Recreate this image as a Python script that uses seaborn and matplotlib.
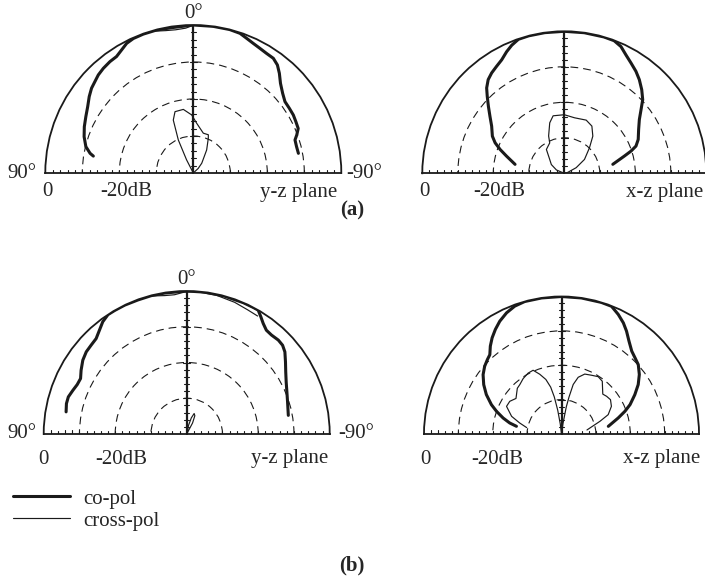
import numpy as np
import seaborn as sns
import matplotlib.pyplot as plt
from matplotlib.lines import Line2D

# angles in degrees (+ towards the 90° side), levels in dB
a_yz_co_ang = [80.4, 79.2, 76.2, 71.6, 67, 62.3, 57.9, 53.7, 50.2, 47.1, 44.1, 40.7, 36.8, 33.4, 30.2,
               27.2, 24, 19.8, 14.4, 7.8, 0, -7.7, -14.2, -18.5, -21.6, -24.8, -28.1, -31.5, -34.9,
               -37.9, -40.8, -44.2, -48.3, -52.1, -56, -59.9, -63.4, -67, -69.8, -72, -75.7, -79.4]
a_yz_co_db = [-12.6, -11.6, -10.1, -8.9, -8.0, -7.2, -6.3, -5.1, -4.2, -3.7, -3.1, -2.7, -2.4, -2.3, -1.5,
              -0.6, -0.2, -0.1, -0.1, -0.3, 0, 0, 0, -0.2, -0.85, -1.4, -1.8, -2.1, -2.2,
              -3.0, -4.4, -6.2, -7.65, -8.6, -8.7, -8.75, -9.0, -9.2, -10.2, -11.1, -11.2, -11.1]
a_yz_x_ang = [32, 27.1, 24.4, 20.7, 16.6, 8.9, 1.6, -3.8, -14.1, -21.5, -23.4, -30.1, -40.8, -47, -52]
a_yz_x_db = [-40, -36, -30.2, -24.7, -22.7, -22.6, -24.3, -26.5, -28.9, -28.9, -29.8, -32.8, -36.5, -38.2, -40]
a_yz_top_ang = [15, 11, 7, 3, 0.5]
a_yz_top_db = [-0.3, -0.8, -1.0, -0.8, -0.2]

a_xz_co_ang = [79.7, 73.4, 69.6, 66.2, 62.7, 57, 52.5, 48.6, 45, 42.3, 39.1, 35.9, 32.4, 28.9, 25.4,
               22.3, 18.9, 14.5, 7.9, 0, -8.1, -16.2, -20.6, -24.1, -27.5, -31.2, -35.1, -38.7,
               -42.8, -46.8, -50.3, -54.4, -59.5, -65.4, -69.2, -71.6, -74, -79.5]
a_xz_co_db = [-25.9, -23.0, -20.7, -18.7, -17.2, -15.6, -13.6, -11.5, -9.3, -7.5, -6.0, -5.1, -4.35, -3.5,
              -2.1, -1.0, -0.1, 0, 0, 0, 0, 0, -0.1, -0.9, -2.4, -3.7, -4.9, -6.2,
              -7.9, -9.7, -11.9, -14.0, -15.7, -17.1, -18.4, -20.2, -22.4, -26.1]
a_xz_x_ang = [72, 67, 56, 46.3, 36.9, 25.6, 22.8, 16.1, 11, 0, -10.5, -22.4, -30.3, -37.5, -44.6, -55.5,
              -64.7, -75, -80]
a_xz_x_db = [-40, -37.6, -35.6, -34.3, -31.6, -30.5, -28.6, -25.2, -23.5, -23.5, -24.1, -23.8, -24.6,
             -26.8, -29.9, -33.1, -36.3, -39, -40]

b_yz_co_ang = [79.6, 75.8, 72.6, 69, 65.7, 62.4, 58.9, 54.6, 50.7, 47.1, 43.5, 40, 36.8, 33.4, 30.2,
               25.7, 20, 14.4, 8.9, 0, -7.2, -15.1, -23.3, -27.7, -30, -32.3, -34.7, -37.5, -40.6,
               -44.3, -47.2, -50.1, -53.9, -57.9, -62.4, -67.2, -72.4, -79.6]
b_yz_co_db = [-5.7, -5.3, -5.3, -5.9, -6.4, -6.5, -5.5, -4.35, -3.7, -3.5, -3.2, -2.05, -0.8, 0, 0,
              0, -0.1, -0.05, -0.1, 0, 0, 0, 0, 0, 0, -1.2, -2.4, -3.4, -3.55,
              -3.3, -3.45, -4.2, -5.8, -7.3, -8.6, -9.6, -10.4, -11.1]
b_yz_x_ang = [-8, -12, -16, -20, -24, -28, -33]
b_yz_x_db = [-40, -37.5, -35.3, -33.9, -34.4, -36.5, -40]
b_yz_top_ang = [14, 9, 5, 1, -4, -12, -20, -26, -31]
b_yz_top_db = [-0.2, -0.8, -0.9, -0.3, -0.1, -0.3, -0.8, -1.3, -1.5]

b_xz_co_ang = [80.3, 78, 74.7, 70.8, 67.3, 62.3, 57.6, 52.9, 48.6, 44.9, 42.1, 39, 35.8, 32.3, 28.7,
               24.4, 20.1, 15.5, 8.3, 0, -8.3, -16.8, -21.4, -25.4, -29.1, -32.3, -36, -40.3, -44,
               -47.9, -52.6, -57.2, -61.8, -66.8, -70.3, -74.2, -80.7]
b_xz_co_db = [-26.7, -24.6, -22.4, -20, -17.9, -15.3, -13.2, -11.4, -10.2, -9.45, -8.9, -7.1, -5.5, -4.0,
              -2.6, -1.3, -0.4, 0, 0, 0, 0, 0, -0.1, -1.5, -3.0, -4.6, -6.6, -8.4, -9.2,
              -9.9, -11.5, -13.45, -15.8, -18.3, -20.4, -22.85, -26.2]
b_xz_x_ang = [79.6, 75.2, 70.5, 63.3, 57.7, 52, 48.8, 44, 40.2, 34.7, 28.7, 24, 20, 16, 13, 11, 9, 7, 5,
              -5, -8, -10, -11.5, -13.3, -16.4, -21.2, -27.1, -32.6, -37.7, -42.8, -46, -50.1, -55,
              -61, -67.5, -71.7, -81]
b_xz_x_db = [-29.7, -27.4, -24.6, -22.1, -22.2, -23.2, -22.6, -21.5, -21.2, -20.4, -19.8, -19.7, -21.5,
             -23.5, -26, -29, -33, -37, -40, -40, -37, -32, -29, -25.2, -22.8, -21.3, -20.8, -20.2,
             -20.6, -22.4, -23.3, -22.9, -22.6, -23.4, -25.3, -28.2, -32.5]

W, H = 705, 577
sns.set_theme(style="white")
plt.rcParams['font.family'] = ['Liberation Serif', 'DejaVu Serif']
plt.rcParams['font.size'] = 15

fig = plt.figure(figsize=(W / 100, H / 100), dpi=100)
fig.patch.set_facecolor('white')

THICK, THIN = 2.2, 0.85


def half_polar(cx, cy, R):
    # polar axes keep a square box; the half disc sits centred in it
    ax = fig.add_axes([(cx - R) / W, (H - cy - R / 2) / H, 2 * R / W, 2 * R / H], projection='polar')
    ax.set_facecolor('white')
    ax.set_theta_zero_location('N')
    ax.set_theta_direction(1)
    ax.set_thetamin(-90)
    ax.set_thetamax(90)
    ax.set_rlim(-40, 0)
    ax.set_rgrids([-30, -20, -10])
    ax.set_yticklabels([])
    ax.yaxis.grid(True, color='k', linestyle=(0, (7, 4.5)), linewidth=0.8)
    ax.xaxis.grid(False)
    ax.set_xticks(np.deg2rad(np.arange(-90, 91, 5)))
    ax.set_xticklabels([])
    ax.tick_params(axis='x', direction='in', length=3.5, width=0.8, colors='k')
    ax.tick_params(axis='y', length=0)
    for name in ['polar', 'start', 'end']:
        ax.spines[name].set_color('k')
        ax.spines[name].set_linewidth(1.3)
    if 'inner' in ax.spines:
        ax.spines['inner'].set_visible(False)

    # centre line with small dB ticks, plus ticks along the baseline
    ax.plot([0, 0], [-40, 0], color='k', lw=1.6, zorder=3)
    for r in range(-38, 0, 2):
        rho = (r + 40) / 40 * R
        h = 3.5 if r % 10 == 0 else 2.2
        d = np.arctan(h / rho)
        r2 = np.hypot(rho, h) / R * 40 - 40
        ax.plot([-d, d], [r2, r2], color='k', lw=0.8, zorder=3)
        hb = 3.5
        db = np.arctan(hb / rho)
        rb = np.hypot(rho, hb) / R * 40 - 40
        for side in (1, -1):
            ax.plot([side * np.pi / 2, side * (np.pi / 2 - db)], [r, rb], color='k', lw=0.8, zorder=3)
    return ax


def draw(ax, ang, db, lw):
    sns.lineplot(x=np.deg2rad(ang), y=db, ax=ax, color='k', lw=lw, sort=False,
                 estimator=None, legend=False, zorder=4)
    ax.set_xlabel('')
    ax.set_ylabel('')


ax1 = half_polar(193.3, 173, 148)
draw(ax1, a_yz_co_ang, a_yz_co_db, THICK)
draw(ax1, a_yz_x_ang, a_yz_x_db, THIN)
draw(ax1, a_yz_top_ang, a_yz_top_db, THIN)

ax2 = half_polar(564.3, 173.3, 142)
draw(ax2, a_xz_co_ang, a_xz_co_db, THICK)
draw(ax2, a_xz_x_ang, a_xz_x_db, THIN)

ax3 = half_polar(186.7, 434, 143)
draw(ax3, b_yz_co_ang, b_yz_co_db, THICK)
draw(ax3, b_yz_x_ang, b_yz_x_db, THIN)
draw(ax3, b_yz_top_ang, b_yz_top_db, THIN)

ax4 = half_polar(561.5, 434, 137.5)
draw(ax4, b_xz_co_ang, b_xz_co_db, THICK)
draw(ax4, b_xz_x_ang, b_xz_x_db, THIN)


def txt(x, y, s, ha='center', va='baseline', **kw):
    fig.text(x / W, 1 - y / H, s, ha=ha, va=va, **kw)


# angle labels
txt(193.3, 14, '0°', va='center')
txt(21.5, 173, '90°', va='center')
txt(364, 173, '-90°', va='center')
txt(187, 280, '0°', va='center')
txt(22, 433, '90°', va='center')
txt(356, 433, '-90°', va='center')

# dB / plane labels
for y0, items in [(196.5, [(47.5, '0'), (126, '-20dB'), (298.5, 'y-z plane'),
                           (424, '0'), (499, '-20dB'), (665, 'x-z plane')]),
                  (463.5, [(43.5, '0'), (121, '-20dB'), (290, 'y-z plane'),
                           (425, '0'), (497, '-20dB'), (662, 'x-z plane')])]:
    for x, s in items:
        txt(x, y0, s)

txt(352, 210, '(a)', va='center', fontweight='bold')
txt(352, 565, '(b)', va='center', fontweight='bold')

handles = [Line2D([], [], color='k', lw=THICK), Line2D([], [], color='k', lw=THIN)]
fig.legend(handles, ['co-pol', 'cross-pol'], loc='upper left',
           bbox_to_anchor=(13 / W, 1 - 489 / H), frameon=False, borderpad=0,
           borderaxespad=0, handlelength=2.75, handletextpad=0.6, labelspacing=0.12,
           fontsize=15)

fig.savefig('out.png', dpi=100, facecolor='white')
